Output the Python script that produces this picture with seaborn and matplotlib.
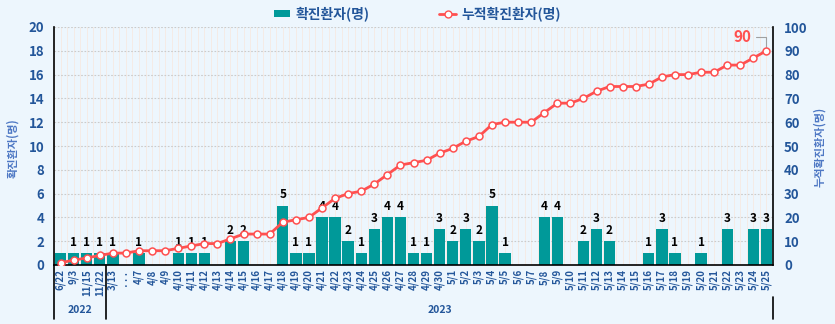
import numpy as np
import pandas as pd
import matplotlib
matplotlib.use("Agg")
import matplotlib.pyplot as plt
from matplotlib.patches import Patch
from matplotlib.lines import Line2D
import seaborn as sns

# 날짜별 확진자 및 누적 확진자
dates = ["6/22", "9/3", "11/15", "11/22", "3/13", "···",
         "4/7", "4/8", "4/9", "4/10", "4/11", "4/12", "4/13", "4/14", "4/15",
         "4/16", "4/17", "4/18", "4/19", "4/20", "4/21", "4/22", "4/23", "4/24",
         "4/25", "4/26", "4/27", "4/28", "4/29", "4/30",
         "5/1", "5/2", "5/3", "5/4", "5/5", "5/6", "5/7", "5/8", "5/9", "5/10",
         "5/11", "5/12", "5/13", "5/14", "5/15", "5/16", "5/17", "5/18", "5/19",
         "5/20", "5/21", "5/22", "5/23", "5/24", "5/25"]
daily = [1, 1, 1, 1, 1, 0,
         1, 0, 0, 1, 1, 1, 0, 2, 2,
         0, 0, 5, 1, 1, 4, 4, 2, 1,
         3, 4, 4, 1, 1, 3,
         2, 3, 2, 5, 1, 0, 0, 4, 4, 0,
         2, 3, 2, 0, 0, 1, 3, 1, 0,
         1, 0, 3, 0, 3, 3]
cumulative = [1, 2, 3, 4, 5, 5,
              6, 6, 6, 7, 8, 9, 9, 11, 13,
              13, 13, 18, 19, 20, 24, 28, 30, 31,
              34, 38, 42, 43, 44, 47,
              49, 52, 54, 59, 60, 60, 60, 64, 68, 68,
              70, 73, 75, 75, 75, 76, 79, 80, 80,
              81, 81, 84, 84, 87, 90]
year_groups = [("2022", 0, 3), ("2023", 4, 54)]

BG = "#EDF6FD"
TEAL = "#009999"
RED = "#FF5050"
TICK = "#23569A"
TITLE = "#4E78C4"

sns.set_theme(style="white")
plt.rcParams["font.family"] = ["Noto Sans CJK KR", "DejaVu Sans"]

df = pd.DataFrame({"date": dates, "daily": daily, "cum": cumulative})
n = len(df)
pos = np.arange(n)

fig = plt.figure(figsize=(8.35, 3.24), dpi=100, facecolor=BG)
ax = fig.add_axes([54 / 835, 1 - 265 / 324, (773 - 54) / 835, (265 - 27) / 324])
ax.set_facecolor(BG)

sns.barplot(data=df, x="date", y="daily", order=dates, color=TEAL,
            width=0.87, saturation=1, ax=ax, zorder=2, linewidth=0)

ax.set_xlim(-0.5, n - 0.5)
ax.set_ylim(0, 20)
ax.set_yticks(np.arange(0, 21, 2))
ax.set_xlabel("")
ax.set_ylabel("")

# 막대 값 표시 (0 및 첫 막대 제외)
for i, v in enumerate(daily):
    if v > 0 and i > 0:
        ax.text(i, v + 0.35, str(v), ha="center", va="bottom",
                fontsize=8.5, fontweight="bold", color="black", zorder=5)

# 격자
ax.set_axisbelow(True)
ax.set_xticks(np.arange(-0.5, n, 0.5), minor=True)
ax.grid(axis="x", which="both", color="#F6EAE2", lw=0.6)
ax.grid(axis="y", which="major", color="#CBCBCB", lw=0.8, ls=(0, (1.5, 1.5)))

ax.set_xticks(pos)
ax.set_xticklabels(dates, rotation=90, fontsize=7, fontweight="bold", color=TICK)
ax.tick_params(axis="x", which="both", length=0, pad=3)
ax.tick_params(axis="y", length=0, pad=7, labelsize=9.5, labelcolor=TICK)
for t in ax.get_yticklabels():
    t.set_fontweight("bold")

for side in ["top", "right"]:
    ax.spines[side].set_visible(False)
for side in ["left", "bottom"]:
    ax.spines[side].set_color("black")
    ax.spines[side].set_linewidth(1.2)

# 누적 확진자 선
ax2 = ax.twinx()
sns.lineplot(x=pos, y=cumulative, ax=ax2, color=RED, lw=2, marker="o",
             markersize=5, markerfacecolor="white", markeredgecolor=RED,
             markeredgewidth=1.1, zorder=4)
ax2.set_ylim(0, 100)
ax2.set_yticks(np.arange(0, 101, 10))
ax2.set_ylabel("")
ax2.tick_params(axis="y", length=0, pad=8, labelsize=9.5, labelcolor=TICK)
for t in ax2.get_yticklabels():
    t.set_fontweight("bold")
for side in ["top", "left", "bottom"]:
    ax2.spines[side].set_visible(False)
ax2.spines["right"].set_color("black")
ax2.spines["right"].set_linewidth(1.2)
ax2.grid(False)

ax2.annotate(str(cumulative[-1]), xy=(n - 1, cumulative[-1]),
             xytext=(-11, 10), textcoords="offset points",
             ha="right", va="center", fontsize=11, fontweight="bold", color=RED,
             arrowprops=dict(arrowstyle="-", color="#A0A0A0", lw=0.8,
                             shrinkA=1, shrinkB=3,
                             connectionstyle="angle,angleA=0,angleB=90,rad=0"))

# 연도 구분
tr = ax.get_xaxis_transform()
y_low = -0.225
ax.plot([-0.5, -0.5], [0, y_low], transform=tr, color="black", lw=1.2, clip_on=False)
ax.plot([3.5, 3.5], [0, y_low], transform=tr, color="black", lw=1.2, clip_on=False)
ax.plot([n - 0.5, n - 0.5], [-0.135, y_low], transform=tr, color="black", lw=1.2, clip_on=False)
for label, a, b in year_groups:
    ax.text((a + b) / 2, -0.19, label, transform=tr, ha="center", va="center",
            fontsize=7.5, fontweight="bold", color=TICK)

# 축 제목
fig.text(13 / 835, 1 - 148 / 324, "확진환자(명)", rotation=90, ha="center",
         va="center", fontsize=8, color=TITLE, fontweight="bold")
fig.text(820 / 835, 1 - 147 / 324, "누적확진환자(명)", rotation=90, ha="center",
         va="center", fontsize=8, color=TITLE, fontweight="bold")

# 범례
handles = [Patch(facecolor=TEAL, edgecolor="none"),
           Line2D([0], [0], color=RED, lw=2, marker="o", markersize=5,
                  markerfacecolor="white", markeredgecolor=RED)]
fig.legend(handles, ["확진환자(명)", "누적확진환자(명)"], loc="center",
           bbox_to_anchor=(0.5, 1 - 14 / 324), ncol=2, frameon=False,
           prop={"size": 10, "weight": "bold"}, handlelength=1.2,
           handleheight=0.45, columnspacing=5, handletextpad=0.4,
           labelcolor=TICK)

fig.savefig("out.png", dpi=100, facecolor=BG)
